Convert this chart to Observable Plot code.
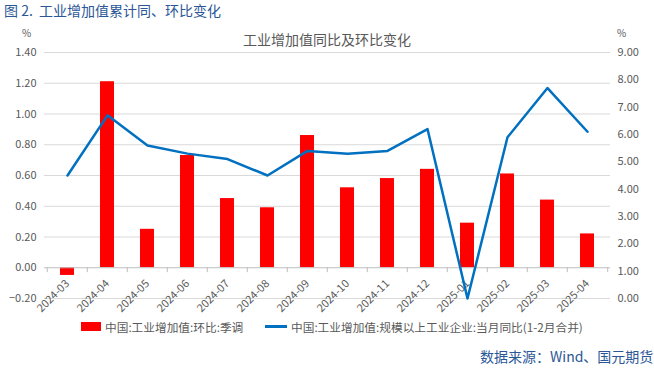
<!DOCTYPE html>
<html>
<head>
<meta charset="utf-8">
<script src="https://cdn.jsdelivr.net/npm/d3@7"></script>
<script src="https://cdn.jsdelivr.net/npm/@observablehq/plot@0.6"></script>
<style>
  html, body { margin: 0; padding: 0; background: #fff; }
  #wrap { position: relative; width: 654px; height: 370px; overflow: hidden; font-family: "Noto Sans CJK SC", "Noto Sans", sans-serif; }
  #wrap svg { position: absolute; left: 0; top: 0; }
  .abs { position: absolute; white-space: nowrap; }
</style>
</head>
<body>
<div id="wrap">
  <div class="abs" style="left:4px; top:0px; font-size:14px; color:#2b5797;">图 2.&nbsp;&nbsp;工业增加值累计同、环比变化</div>
  <div class="abs" style="left:0; width:654px; text-align:center; top:29px; font-size:14px; color:#595959;"><span style="position:relative; left:0px;">工业增加值同比及环比变化</span></div>
  <div class="abs" style="left:22px; top:25px; font-size:10px; color:#595959;">%</div>
  <div class="abs" style="left:617px; top:25px; font-size:10px; color:#595959;">%</div>
  <div class="abs" style="left:81px; top:318px; font-size:11.7px; color:#595959; display:flex; align-items:center;">
    <span style="display:inline-block; width:20px; height:9px; background:#ff0000; margin-right:4px;"></span>中国:工业增加值:环比:季调
  </div>
  <div class="abs" style="left:265px; top:318px; font-size:11.7px; color:#595959; display:flex; align-items:center;">
    <span style="display:inline-block; width:22px; height:3px; background:#0070c0; margin-right:4px;"></span>中国:工业增加值:规模以上工业企业:当月同比(1-2月合并)
  </div>
  <div class="abs" style="left:480px; top:346px; font-size:14px; color:#2b5797;">数据来源：Wind、国元期货</div>
</div>
<script>
const categories = ["2024-03","2024-04","2024-05","2024-06","2024-07","2024-08","2024-09","2024-10","2024-11","2024-12","2025-01","2025-02","2025-03","2025-04"];
const momValues = [-0.05, 1.21, 0.25, 0.73, 0.45, 0.39, 0.86, 0.52, 0.58, 0.64, 0.29, 0.61, 0.44, 0.22];
const yoyValues = [4.5, 6.7, 5.6, 5.3, 5.1, 4.5, 5.4, 5.3, 5.4, 6.2, 0, 5.9, 7.7, 6.1];
const leftTicks = [-0.2, 0, 0.2, 0.4, 0.6, 0.8, 1.0, 1.2, 1.4];
const rightTicks = [0, 1, 2, 3, 4, 5, 6, 7, 8, 9];

const W = 654, H = 370, mL = 44, mR = 44, mT = 52, mB = 72;
const leftDomain = [-0.2, 1.4];
const rightDomain = [0, 9];
// map right-axis value into left-axis units (linear dual axis)
const r2l = v => leftDomain[0] + (v - rightDomain[0]) * (leftDomain[1] - leftDomain[0]) / (rightDomain[1] - rightDomain[0]);
const l2r = v => rightDomain[0] + (v - leftDomain[0]) * (rightDomain[1] - rightDomain[0]) / (leftDomain[1] - leftDomain[0]);

const rows = categories.map((c, i) => ({cat: c, mom: momValues[i], yoy: yoyValues[i]}));
const step = (W - mL - mR) / categories.length;
const fmtL = d => (d < 0 ? "\u2212" : "") + Math.abs(d).toFixed(2);
const font = "Noto Sans CJK SC";

const chart = Plot.plot({
  width: W, height: H,
  marginLeft: mL, marginRight: mR, marginTop: mT, marginBottom: mB,
  style: {fontFamily: font, background: "transparent", overflow: "visible"},
  x: {type: "band", domain: categories, paddingInner: 0.66, paddingOuter: 0.33, axis: null},
  y: {domain: leftDomain, axis: null},
  marks: [
    Plot.gridY(leftTicks.filter(d => d !== 0), {stroke: "#d9d9d9", strokeOpacity: 1}),
    Plot.axisY(leftTicks, {anchor: "left", label: null, tickSize: 0, tickPadding: 8, tickFormat: fmtL, fill: "#595959", fontSize: 11, fontFamily: font}),
    Plot.axisY(rightTicks.map(r2l), {anchor: "right", label: null, tickSize: 0, tickPadding: 7, textAnchor: "start", tickFormat: d => Math.round(l2r(d)).toFixed(2), fill: "#595959", fontSize: 11, fontFamily: font}),
    Plot.barY(rows, {x: "cat", y: "mom", fill: "#ff0000"}),
    Plot.ruleY([0], {stroke: "#bfbfbf", strokeWidth: 1}),
    Plot.ruleX(rows, {x: "cat", y1: 0, y2: -0.032, dx: -step / 2, stroke: "#bfbfbf"}),
    Plot.ruleX(rows.slice(-1), {x: "cat", y1: 0, y2: -0.032, dx: step / 2, stroke: "#bfbfbf"}),
    Plot.text(rows, {x: "cat", y: 0, text: "cat", rotate: -45, textAnchor: "end", dx: 0, dy: 14, fill: "#595959", fontSize: 11, fontFamily: font}),
    Plot.lineY(rows, {x: "cat", y: d => r2l(d.yoy), stroke: "#0070c0", strokeWidth: 2.5})
  ]
});
document.getElementById("wrap").prepend(chart);
</script>
</body>
</html>
